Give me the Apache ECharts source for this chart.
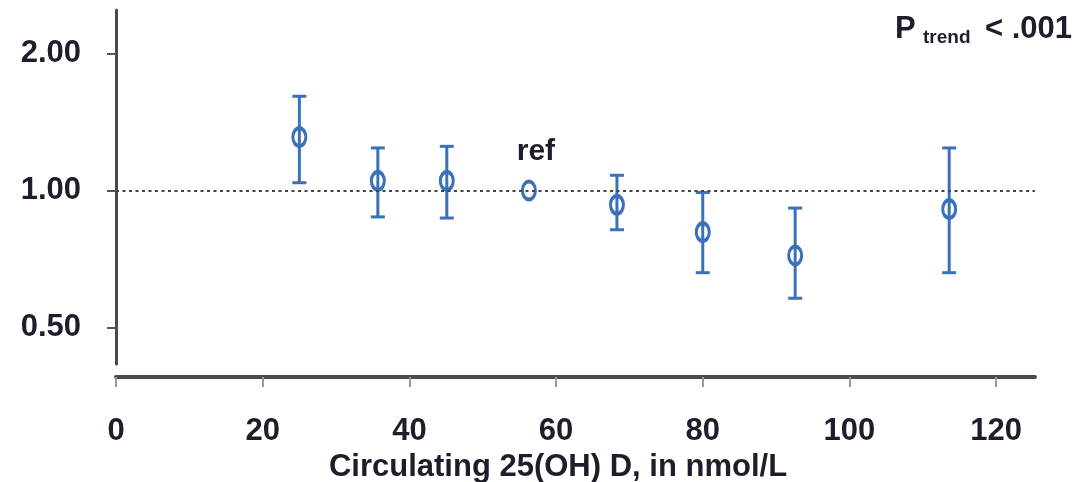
<!DOCTYPE html>
<html>
<head>
<meta charset="utf-8">
<script src="https://cdn.jsdelivr.net/npm/echarts@6/dist/echarts.min.js"></script>
<style>
  html, body { margin: 0; padding: 0; background: #ffffff; }
  #chart { width: 1076px; height: 482px; }
</style>
</head>
<body>
<div id="chart"></div>
<script>
// Circulating 25(OH)D category midpoints (nmol/L)
const vitD = [25, 35.7, 45.1, 56.3, 68.3, 80.0, 92.6, 113.6];
// Relative risk per category (56.3 nmol/L is the reference group)
const relRisk = [1.31, 1.05, 1.05, 1.00, 0.93, 0.81, 0.72, 0.91];
// 95% confidence limits (reference group has none)
const ciLow  = [1.04, 0.875, 0.87, null, 0.82, 0.66, 0.58, 0.66];
const ciHigh = [1.61, 1.24, 1.25, null, 1.08, 0.99, 0.915, 1.24];
const refIndex = 3;

const xTicks = [0, 20, 40, 60, 80, 100, 120];
const yTicks = [0.5, 1, 2];

const BLUE = '#3b71b8';
const INK = '#1c1f2b';
const FONT = "'Liberation Sans', Arial, sans-serif";

const ciData = [];
vitD.forEach((x, i) => {
  if (ciLow[i] != null) ciData.push([x, ciLow[i], ciHigh[i]]);
});
const pointData = vitD.map((x, i) => {
  const item = { value: [x, relRisk[i]] };
  if (i === refIndex) {
    item.label = {
      show: true, formatter: 'ref', position: 'top', distance: 13, offset: [7, 0],
      fontFamily: FONT, fontWeight: 'bold', fontSize: 30, color: INK
    };
  }
  return item;
});

const chart = echarts.init(document.getElementById('chart'), null, { renderer: 'canvas' });

chart.setOption({
  animation: false,
  backgroundColor: '#ffffff',
  grid: { left: 116, right: 41, top: 10, bottom: 118, outerBoundsMode: 'none' },
  xAxis: {
    type: 'value', min: 0, max: 125.3, offset: 13,
    name: 'Circulating 25(OH) D, in nmol/L',
    nameLocation: 'middle', nameGap: 74,
    nameTextStyle: { fontFamily: FONT, fontWeight: 'bold', fontSize: 31, color: INK, padding: [0, 35, 0, 0] },
    axisLine: { lineStyle: { color: '#4a4a4a', width: 4 } },
    axisTick: { customValues: xTicks, length: 10, lineStyle: { color: '#9a9a9a', width: 2 } },
    axisLabel: {
      customValues: xTicks, margin: 39,
      fontFamily: FONT, fontWeight: 'bold', fontSize: 31, color: INK
    },
    splitLine: { show: false }
  },
  yAxis: {
    type: 'log', logBase: 2, min: 0.416, max: 2.49,
    axisLine: { show: true, lineStyle: { color: '#4a4a4a', width: 3 } },
    axisTick: { show: true, customValues: yTicks, length: 9, lineStyle: { color: '#555555', width: 2 } },
    axisLabel: {
      customValues: yTicks, margin: 35,
      formatter: v => Number(v).toFixed(2),
      fontFamily: FONT, fontWeight: 'bold', fontSize: 31, color: INK
    },
    splitLine: { show: false }
  },
  graphic: [
    { type: 'text', left: 895, top: 14, style: { text: 'P', font: `bold 31px ${FONT}`, fill: INK } },
    { type: 'text', left: 923, top: 28, style: { text: 'trend', font: `bold 19px ${FONT}`, fill: INK } },
    { type: 'text', right: 4, top: 14, style: { text: '< .001', font: `bold 31px ${FONT}`, fill: INK } }
  ],
  series: [
    {
      type: 'custom',
      name: 'CI',
      data: ciData,
      encode: { x: 0, y: [1, 2] },
      z: 2,
      renderItem(params, api) {
        const x = api.value(0);
        const lo = api.coord([x, api.value(1)]);
        const hi = api.coord([x, api.value(2)]);
        const half = 7;
        const style = { stroke: BLUE, lineWidth: 3, fill: null };
        return {
          type: 'group',
          children: [
            { type: 'line', shape: { x1: lo[0], y1: lo[1], x2: hi[0], y2: hi[1] }, style },
            { type: 'line', shape: { x1: hi[0] - half, y1: hi[1], x2: hi[0] + half, y2: hi[1] }, style },
            { type: 'line', shape: { x1: lo[0] - half, y1: lo[1], x2: lo[0] + half, y2: lo[1] }, style }
          ]
        };
      },
      markLine: {
        silent: true,
        symbol: 'none',
        label: { show: false },
        lineStyle: { type: [3, 3.5], color: '#444444', width: 2 },
        data: [{ yAxis: 1 }]
      }
    },
    {
      type: 'scatter',
      name: 'RR',
      data: pointData,
      z: 3,
      symbol: 'path://M0,-1A1,1 0 1 1 0,1A1,1 0 1 1 0,-1Z',
      symbolSize: [13, 18],
      symbolKeepAspect: false,
      itemStyle: { color: 'rgba(0,0,0,0)', borderColor: BLUE, borderWidth: 3.5, opacity: 1 }
    }
  ]
});
</script>
</body>
</html>
